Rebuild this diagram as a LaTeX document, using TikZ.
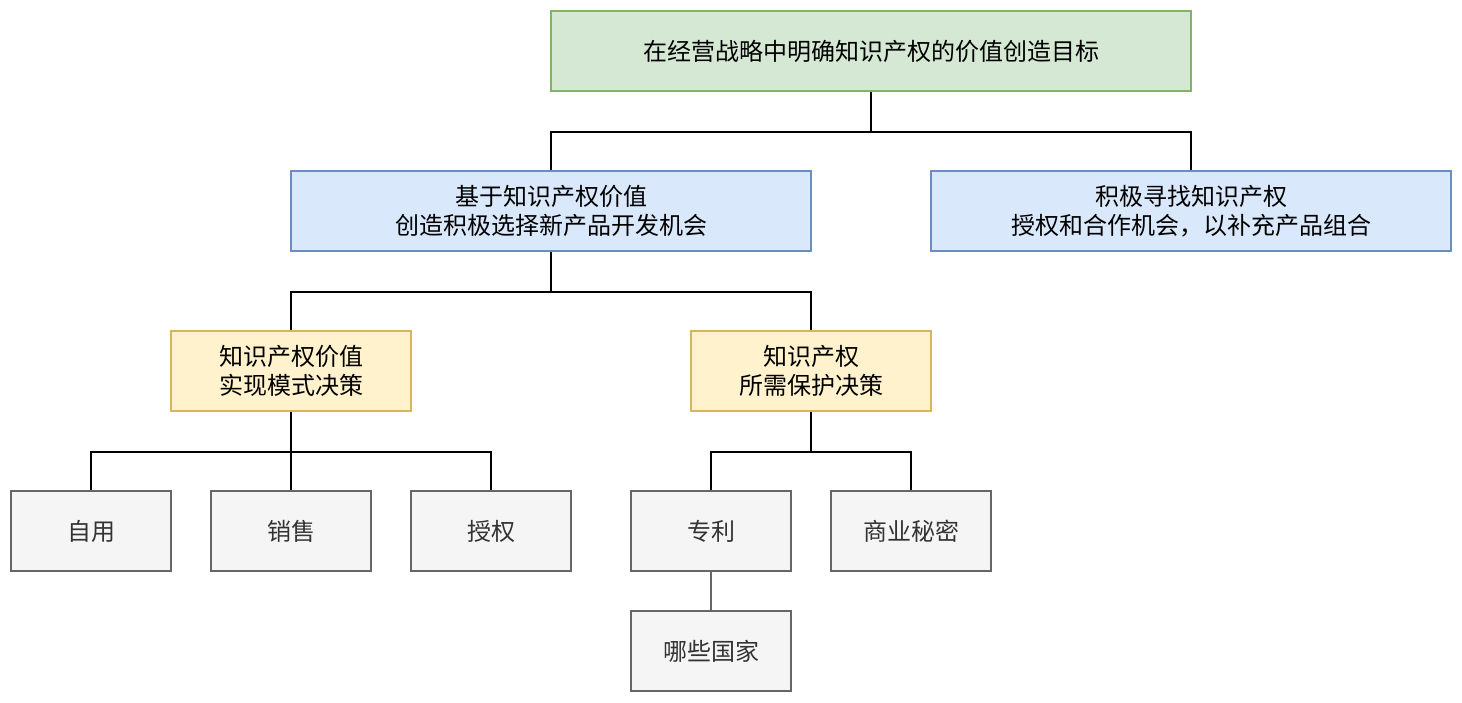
\documentclass[tikz,border=0pt]{standalone}
\usepackage{fontspec}
\newfontfamily\cjk{Noto Sans CJK SC}
\definecolor{gfill}{HTML}{D5E8D4}\definecolor{gline}{HTML}{82B366}
\definecolor{bfill}{HTML}{DAE8FC}\definecolor{bline}{HTML}{6C8EBF}
\definecolor{yfill}{HTML}{FFF2CC}\definecolor{yline}{HTML}{D6B656}
\definecolor{qfill}{HTML}{F5F5F5}\definecolor{qline}{HTML}{666666}
\definecolor{qtext}{HTML}{333333}
\begin{document}
\begin{tikzpicture}[x=0.5pt,y=-0.5pt,
  box/.style={draw,line width=1pt,inner sep=0pt,align=center,
    font=\cjk\fontsize{12}{14.5}\selectfont,minimum height=40pt},
  greenbox/.style={box,fill=gfill,draw=gline,minimum width=320pt},
  bluebox/.style={box,fill=bfill,draw=bline,minimum width=260pt},
  yellowbox/.style={box,fill=yfill,draw=yline,minimum width=120pt},
  graybox/.style={box,fill=qfill,draw=qline,text=qtext,minimum width=80pt},
  link/.style={line width=1pt,draw=black},
  glink/.style={line width=1pt,draw=qline}]
\useasboundingbox (0,0) rectangle (1462,702);
\node[greenbox] (top) at (871,51) {在经营战略中明确知识产权的价值创造目标};
\node[bluebox] (bl) at (551,211) {基于知识产权价值\\创造积极选择新产品开发机会};
\node[bluebox] (br) at (1191,211) {积极寻找知识产权\\授权和合作机会，以补充产品组合};
\node[yellowbox] (yl) at (291,371) {知识产权价值\\实现模式决策};
\node[yellowbox] (yr) at (811,371) {知识产权\\所需保护决策};
\node[graybox] (g1) at (91,531) {自用};
\node[graybox] (g2) at (291,531) {销售};
\node[graybox] (g3) at (491,531) {授权};
\node[graybox] (g4) at (711,531) {专利};
\node[graybox] (g5) at (911,531) {商业秘密};
\node[graybox] (g6) at (711,651) {哪些国家};
\draw[link] (top.south) -- ++(0,40) -| (bl.north);
\draw[link] (top.south) -- ++(0,40) -| (br.north);
\draw[link] (bl.south) -- ++(0,40) -| (yl.north);
\draw[link] (bl.south) -- ++(0,40) -| (yr.north);
\draw[link] (yl.south) -- ++(0,40) -| (g1.north);
\draw[link] (yl.south) -- (g2.north);
\draw[link] (yl.south) -- ++(0,40) -| (g3.north);
\draw[link] (yr.south) -- ++(0,40) -| (g4.north);
\draw[link] (yr.south) -- ++(0,40) -| (g5.north);
\draw[glink] (g4.south) -- (g6.north);
\end{tikzpicture}
\end{document}
